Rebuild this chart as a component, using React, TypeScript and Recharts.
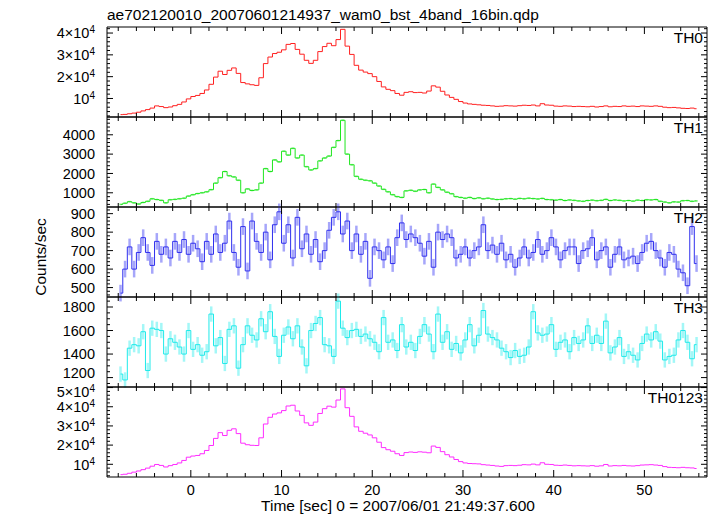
import React from 'react';
import { LineChart, Line, XAxis, YAxis, ErrorBar } from 'recharts';

// bin centres: first bin at -7.75 s, 0.5 s wide
const T_START = -7.75;
const BIN = 0.5;

const TH0 = [
  2600, 2700, 3000, 3300, 3700, 4300, 4900, 5600, 6600, 6300, 5800, 6100, 6700, 7300, 8400, 9800,
  10900, 11400, 12300, 13900, 16500, 19800, 22500, 21000, 22900, 24000, 21500, 17300, 16700, 16300, 16000, 19500, 26000, 29000, 30600, 31200,
  32300, 34800, 35200, 32500, 30300, 27500, 26100, 27500, 31500, 33800, 35300, 34200, 37000, 41700, 34000, 30200, 25200, 23000, 22100, 21400,
  20000, 17800, 15300, 14200, 13600, 12300, 11500, 12800, 13100, 12700, 12800, 12500, 13400, 15800, 15200, 13300, 11600, 10500, 9600, 8600,
  7900, 7500, 7300, 7100, 6900, 6800, 6600, 6400, 6500, 6700, 6600, 6500, 6700, 6900, 6800, 7000, 6600, 7600, 7000, 6900,
  6500, 6400, 6600, 6500, 6300, 6400, 6300, 6200, 6400, 6100, 6300, 6600, 6200, 6400, 6300, 6600, 6400, 6500, 6300, 6600,
  6500, 6400, 6600, 6400, 6000, 5800, 5900, 5700, 5500, 5400, 5600, 5300,
];

const TH1 = [
  400, 460, 540, 480, 420, 500, 560, 690, 650, 610, 480, 640, 660, 690, 720, 830,
  900, 960, 1000, 1050, 1160, 1500, 1780, 2100, 1880, 1820, 1650, 1000, 1200, 1120, 1150, 1500, 2250, 2100, 2700, 2600,
  3150, 2950, 3300, 2800, 2950, 2350, 2180, 2250, 2650, 2800, 2900, 3350, 3700, 4750, 3000, 2450, 1850, 1700, 1650, 1620,
  1500, 1350, 1180, 1050, 900, 800, 760, 1100, 1130, 1080, 1150, 1170, 1000, 1450, 1280, 1150, 1030, 950, 800, 760,
  720, 760, 700, 740, 690, 720, 680, 650, 660, 690, 700, 670, 710, 690, 720, 700, 680, 710, 650, 640,
  620, 650, 600, 630, 610, 580, 560, 600, 620, 590, 610, 660, 600, 630, 610, 580, 600, 570, 620, 600,
  640, 630, 650, 560, 520, 480, 530, 520, 590, 600, 560, 580,
];

const TH2 = [
  470, 600, 720, 600, 690, 770, 690, 620, 750, 680, 720, 660, 750, 690, 760, 680,
  740, 710, 640, 750, 680, 790, 690, 740, 860, 690, 610, 830, 590, 860, 750, 690, 800, 650, 840, 910,
  740, 840, 660, 880, 710, 790, 680, 760, 640, 700, 810, 880, 910, 790, 860, 700, 790, 680, 750, 550,
  720, 700, 650, 720, 630, 770, 850, 760, 790, 770, 740, 670, 750, 610, 800, 760, 790, 770, 660, 680,
  720, 660, 700, 720, 840, 700, 730, 680, 740, 650, 680, 610, 660, 720, 660, 690, 760, 680, 700, 770,
  720, 650, 700, 720, 720, 630, 700, 710, 770, 650, 700, 720, 610, 680, 720, 650, 660, 670, 630, 690,
  740, 750, 700, 660, 610, 690, 680, 600, 580, 510, 830, 630,
];

const TH3 = [
  1230, 1180, 1450, 1480, 1470, 1590, 1260, 1620, 1610, 1600, 1400, 1530, 1500, 1460, 1400, 1600,
  1440, 1480, 1390, 1420, 1740, 1470, 1540, 1320, 1610, 1640, 1280, 1480, 1640, 1560, 1520, 1700, 1590, 1760, 1550, 1380,
  1560, 1630, 1530, 1640, 1460, 1300, 1600, 1660, 1710, 1480, 1470, 1380, 1850, 1620, 1540, 1600, 1610, 1550, 1570, 1530,
  1500, 1420, 1710, 1500, 1520, 1430, 1650, 1460, 1500, 1430, 1550, 1650, 1570, 1420, 1740, 1500, 1590, 1440, 1490, 1410,
  1520, 1650, 1470, 1560, 1770, 1570, 1540, 1520, 1450, 1420, 1370, 1430, 1380, 1390, 1460, 1760, 1580, 1560, 1570, 1650,
  1440, 1500, 1520, 1420, 1540, 1490, 1520, 1640, 1490, 1560, 1490, 1680, 1410, 1460, 1540, 1380, 1420, 1390, 1350, 1490,
  1570, 1520, 1590, 1510, 1350, 1380, 1390, 1520, 1600, 1500, 1360, 1480,
];

const TH0123 = [
  4600, 4800, 5300, 5900, 6500, 7200, 8000, 9000, 9900, 9400, 8600, 9300, 9900, 10700, 12000, 13700,
  14300, 14600, 15500, 17200, 19800, 23500, 26500, 25000, 27700, 28500, 26000, 21000, 20200, 19900, 19800, 23800, 31000, 34500, 36200, 36800,
  38000, 40400, 40800, 37800, 35500, 31600, 30300, 32000, 36500, 39000, 40300, 39800, 43500, 49300, 39500, 35000, 29500, 27200, 26200, 25300,
  23800, 21500, 18700, 17600, 16800, 15500, 14600, 16100, 16400, 16200, 16500, 16300, 16000, 19500, 18800, 16600, 15000, 13800, 12500, 11400,
  10700, 10400, 10300, 10200, 9800, 9600, 9400, 9100, 8900, 9300, 9400, 9300, 9500, 9800, 9700, 10100, 9700, 10800, 10000, 9900,
  9500, 9400, 9600, 9400, 9200, 9300, 9200, 9100, 9300, 9000, 9200, 9900, 9100, 9300, 9200, 9400, 9200, 9100, 9300, 9600,
  9700, 9800, 9600, 9400, 8800, 8400, 8300, 8200, 8400, 8200, 8100, 7800,
];

// rough 1-sigma half widths
const TH1_ERR = 45;
const TH2_ERR = 45;
const TH3_ERR = 65;

const TITLE = 'ae702120010_20070601214937_wam0_bst_4band_16bin.qdp';
const X_TITLE = 'Time [sec] 0 = 2007/06/01 21:49:37.600';
const Y_TITLE = 'Counts/sec';

const W = 717;
const H = 516;
const LEFT = 107;
const RIGHT = 10;
const TOP = 27;
const PANEL_H = 90;
const FONT = '"Liberation Sans", Arial, Helvetica, sans-serif';

const X_DOMAIN: [number, number] = [-9.24, 56.9];

function steps(lo: number, hi: number, step: number) {
  const out: number[] = [];
  for (let k = Math.ceil(lo / step - 1e-9); k * step <= hi + 1e-9; k++) out.push(k * step);
  return out;
}

function isMult(v: number, m: number) {
  return Math.abs(v / m - Math.round(v / m)) < 1e-6;
}

const X_TICKS = steps(-8, 56, 2);

// shift: the panel 4 bottom label and panel 5 top label would sit on top of each other
const PANELS = [
  { name: 'TH0', values: TH0, color: '#ff2020', domain: [1510, 42770], major: 10000, minor: 2000, sci: true },
  { name: 'TH1', values: TH1, color: '#1fe61f', err: TH1_ERR, errColor: '#55ee55', domain: [265, 4920], major: 1000, minor: 200 },
  { name: 'TH2', values: TH2, color: '#2f2fee', err: TH2_ERR, errColor: '#6a6af6', domain: [449, 936], major: 100, minor: 20 },
  { name: 'TH3', values: TH3, color: '#1eeaea', err: TH3_ERR, errColor: '#66f2f2', domain: [1120, 1885], major: 200, minor: 50, shift: { 1200: -4.5 } },
  { name: 'TH0123', values: TH0123, color: '#ff2cff', domain: [3370, 50300], major: 10000, minor: 2000, sci: true, shift: { 50000: 4.5 } },
];

function xTick(showLabel: boolean, top: boolean) {
  return (props: any) => {
    const { x, y, payload } = props;
    const v = payload.value;
    const major = isMult(v, 10);
    const len = major ? 7 : 4;
    return (
      <g>
        <line x1={x} x2={x} y1={y} y2={top ? y + len : y - len} stroke="#000" strokeWidth={1} />
        {showLabel && major ? (
          <text x={x} y={y + 18} textAnchor="middle" fontSize={14.5} fill="#000">
            {v}
          </text>
        ) : null}
      </g>
    );
  };
}

function yTick(p: any, right: boolean) {
  return (props: any) => {
    const { x, y, payload } = props;
    const v = payload.value;
    const major = isMult(v, p.major);
    const len = major ? 6 : 3;
    const ly = y + ((p.shift && p.shift[v]) || 0);
    let label: React.ReactNode = null;
    if (!right && major) {
      if (p.sci) {
        const n = Math.round(v / 10000);
        label = (
          <text x={x - 12} y={ly} dy="0.36em" textAnchor="end" fontSize={14.5} fill="#000">
            {n === 1 ? '10' : `${n}\u00d710`}
            <tspan dy={-5} fontSize={10}>4</tspan>
          </text>
        );
      } else {
        label = (
          <text x={x - 12} y={ly} dy="0.36em" textAnchor="end" fontSize={14.5} fill="#000">
            {v}
          </text>
        );
      }
    }
    return (
      <g>
        <line x1={x} x2={right ? x - len : x + len} y1={y} y2={y} stroke="#000" strokeWidth={1} />
        {label}
      </g>
    );
  };
}

function Panel({ p, index }: { p: any; index: number }) {
  const top = TOP + index * PANEL_H;
  const last = index === PANELS.length - 1;
  const data = p.values.map((v: number, i: number) => ({
    t: T_START + i * BIN,
    v,
    e: p.err ?? 0,
  }));
  const yTicks = steps(p.domain[0], p.domain[1], p.minor);
  const axisLine = { stroke: '#000', strokeWidth: 1 };
  // axes are 1px thick, so shave that off the margins
  return (
    <div style={{ position: 'absolute', left: 0, top: 0 }}>
      <LineChart
        width={W}
        height={H}
        data={data}
        margin={{ top: top - 1, bottom: H - top - PANEL_H - 1, left: LEFT - 1, right: RIGHT - 1 }}
      >
        <XAxis
          xAxisId="b"
          dataKey="t"
          type="number"
          domain={X_DOMAIN}
          allowDataOverflow
          ticks={X_TICKS}
          interval={0}
          height={1}
          tickSize={0}
          tickMargin={0}
          tickLine={false}
          axisLine={axisLine}
          tick={xTick(last, false)}
        />
        <XAxis
          xAxisId="t"
          orientation="top"
          dataKey="t"
          type="number"
          domain={X_DOMAIN}
          allowDataOverflow
          ticks={X_TICKS}
          interval={0}
          height={1}
          tickSize={0}
          tickMargin={0}
          tickLine={false}
          axisLine={axisLine}
          tick={xTick(false, true)}
        />
        <YAxis
          yAxisId="l"
          type="number"
          domain={p.domain}
          allowDataOverflow
          ticks={yTicks}
          interval={0}
          width={1}
          tickSize={0}
          tickMargin={0}
          tickLine={false}
          axisLine={axisLine}
          tick={yTick(p, false)}
        />
        <YAxis
          yAxisId="r"
          orientation="right"
          type="number"
          domain={p.domain}
          allowDataOverflow
          ticks={yTicks}
          interval={0}
          width={1}
          tickSize={0}
          tickMargin={0}
          tickLine={false}
          axisLine={axisLine}
          tick={yTick(p, true)}
        />
        <Line
          xAxisId="b"
          yAxisId="l"
          type="step"
          dataKey="v"
          stroke={p.color}
          strokeWidth={1}
          dot={false}
          isAnimationActive={false}
        >
          {p.err ? (
            <ErrorBar
              dataKey="e"
              direction="y"
              width={0}
              stroke={p.errColor}
              strokeWidth={2.5}
              strokeOpacity={0.6}
              isAnimationActive={false}
            />
          ) : null}
        </Line>
        {/* invisible twin so the top/right axes get a domain */}
        <Line
          xAxisId="t"
          yAxisId="r"
          dataKey="v"
          stroke="none"
          dot={false}
          activeDot={false}
          isAnimationActive={false}
        />
      </LineChart>
    </div>
  );
}

export default function App() {
  return (
    <div
      style={{
        position: 'absolute',
        left: 0,
        top: 0,
        width: W,
        height: H,
        background: '#fff',
        fontFamily: FONT,
      }}
    >
      {PANELS.map((p, i) => (
        <Panel key={p.name} p={p} index={i} />
      ))}
      <svg
        width={W}
        height={H}
        style={{ position: 'absolute', left: 0, top: 0, pointerEvents: 'none' }}
        fontFamily={FONT}
      >
        <text x={LEFT} y={20} fontSize={15.5} fill="#000">
          {TITLE}
        </text>
        {PANELS.map((p, i) => (
          <text
            key={p.name}
            x={W - RIGHT - 4}
            y={TOP + i * PANEL_H + 16}
            textAnchor="end"
            fontSize={15.5}
            fill="#000"
          >
            {p.name}
          </text>
        ))}
        <text x={398} y={511} textAnchor="middle" fontSize={15.5} fill="#000">
          {X_TITLE}
        </text>
        <text
          transform="translate(46 257) rotate(-90)"
          textAnchor="middle"
          fontSize={15.5}
          fill="#000"
        >
          {Y_TITLE}
        </text>
      </svg>
    </div>
  );
}
